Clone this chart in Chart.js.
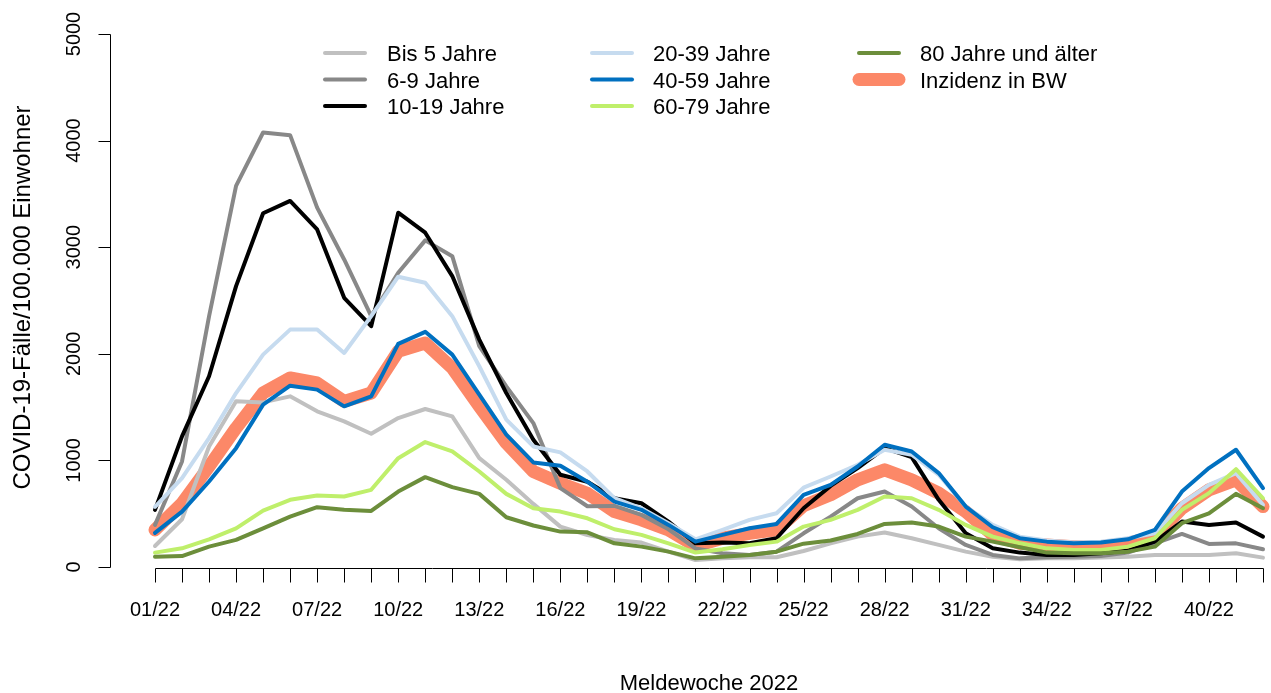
<!DOCTYPE html>
<html>
<head>
<meta charset="utf-8">
<script src="https://cdn.jsdelivr.net/npm/chart.js@4"></script>
<style>
html,body{margin:0;padding:0;background:#ffffff;}
#wrap{width:1271px;height:693px;}
</style>
</head>
<body>
<div id="wrap"><canvas id="c" width="1271" height="693"></canvas></div>
<script>
// ---- data ----
const weeks = [1,2,3,4,5,6,7,8,9,10,11,12,13,14,15,16,17,18,19,20,21,22,23,24,25,26,27,28,29,30,31,32,33,34,35,36,37,38,39,40,41,42];
const labeledWeeks = [1,4,7,10,13,16,19,22,25,28,31,34,37,40];
const yTicks = [0,1000,2000,3000,4000,5000];

const bis5     = [197,448,1131,1554,1544,1601,1460,1366,1250,1397,1482,1413,1021,818,592,379,300,254,229,144,66,81,91,91,150,222,285,323,270,207,144,97,72,81,81,88,97,113,113,113,129,88];
const age6_9   = [395,990,2350,3575,4076,4051,3371,2885,2353,2760,3064,2916,2071,1695,1350,740,570,573,489,354,175,129,113,144,316,473,645,708,567,363,207,113,81,91,97,103,135,222,310,216,222,166];
const age10_19 = [536,1225,1789,2635,3318,3434,3167,2525,2259,3324,3136,2729,2133,1632,1194,865,800,645,598,426,222,229,222,270,551,761,928,1115,1031,630,316,175,135,113,113,129,153,238,426,395,417,285];
const age20_39 = [564,833,1209,1632,1992,2227,2227,2008,2353,2723,2666,2353,1883,1382,1131,1075,896,645,551,411,260,348,442,504,744,849,959,1100,1053,865,567,395,285,248,229,238,270,316,598,771,881,583];
const age40_59 = [320,520,802,1115,1523,1701,1664,1507,1601,2093,2206,1992,1617,1241,981,949,800,614,536,395,238,301,363,404,677,771,943,1147,1084,881,567,373,270,238,222,229,260,348,708,928,1100,739];
const age60_79 = [135,175,260,363,529,630,671,661,724,1021,1172,1084,896,686,551,520,457,354,301,222,135,166,207,238,379,442,536,661,645,536,395,285,222,175,160,160,191,270,536,693,918,645];
const age80    = [97,103,191,254,363,473,561,536,526,708,843,749,686,467,389,332,325,222,191,144,81,97,113,144,219,248,310,404,417,379,285,238,185,135,129,129,144,191,411,504,686,551];
const inzidenzBW = [348,598,943,1303,1632,1773,1726,1554,1632,2024,2102,1867,1507,1163,896,786,690,520,442,348,197,270,316,348,575,677,818,912,818,693,520,301,222,207,191,191,222,285,551,724,818,567];

const seriesLabels = ['Bis 5 Jahre','6-9 Jahre','10-19 Jahre','20-39 Jahre','40-59 Jahre','60-79 Jahre','80 Jahre und älter','Inzidenz in BW'];
const seriesValues = [bis5, age6_9, age10_19, age20_39, age40_59, age60_79, age80, inzidenzBW];

const xTitle = 'Meldewoche 2022';
const yTitle = 'COVID-19-Fälle/100.000 Einwohner';

// ---- styles ----
const FONT = '"Liberation Sans", Arial, Helvetica, sans-serif';
const seriesColors = ['#c0c0c0','#888888','#000000','#c6dbef','#0070c0','#bfef6b','#6c8e3b','#fc8868'];
const seriesWidths = [4,4,4,4,4,4,4,13];
const seriesOrder  = [7,6,5,4,3,2,1,8];

const datasets = seriesLabels.map((lab, k) => ({
  label: lab,
  data: weeks.map((w, i) => ({x: w, y: seriesValues[k][i]})),
  borderColor: seriesColors[k],
  backgroundColor: seriesColors[k],
  borderWidth: seriesWidths[k],
  pointRadius: 0,
  pointHoverRadius: 0,
  fill: false,
  tension: 0,
  borderCapStyle: 'round',
  borderJoinStyle: 'round',
  order: seriesOrder[k],
  legendIndex: k
}));

const pad2 = v => (v < 10 ? '0' : '') + v;

const rAxesPlugin = {
  id: 'rAxes',
  afterDraw(chart) {
    const ctx = chart.ctx;
    const xs = chart.scales.x, ys = chart.scales.y;
    const area = chart.chartArea;
    ctx.save();
    ctx.strokeStyle = '#000';
    ctx.lineWidth = 1;
    // x axis
    const y0 = Math.round(ys.getPixelForValue(0)) + 1.5;
    ctx.beginPath();
    ctx.moveTo(Math.round(xs.getPixelForValue(weeks[0])) + 0.5, y0);
    ctx.lineTo(Math.round(xs.getPixelForValue(weeks[weeks.length - 1])) + 0.5, y0);
    weeks.forEach(w => {
      const px = Math.round(xs.getPixelForValue(w)) + 0.5;
      ctx.moveTo(px, y0);
      ctx.lineTo(px, y0 + 14);
    });
    ctx.stroke();
    // y axis
    const x0 = Math.round(area.left) + 0.5;
    ctx.beginPath();
    ctx.moveTo(x0, Math.round(ys.getPixelForValue(yTicks[0])) + 0.5);
    ctx.lineTo(x0, Math.round(ys.getPixelForValue(yTicks[yTicks.length - 1])) + 0.5);
    yTicks.forEach(v => {
      const py = Math.round(ys.getPixelForValue(v)) + 0.5;
      ctx.moveTo(x0, py);
      ctx.lineTo(x0 - 12, py);
    });
    ctx.stroke();
    // y tick labels (rotated like R)
    ctx.fillStyle = '#000';
    ctx.font = '20px ' + FONT;
    ctx.textAlign = 'center';
    ctx.textBaseline = 'alphabetic';
    yTicks.forEach(v => {
      ctx.save();
      ctx.translate(x0 - 31, ys.getPixelForValue(v));
      ctx.rotate(-Math.PI / 2);
      ctx.fillText(String(v), 0, 0);
      ctx.restore();
    });
    // y title
    ctx.font = '24px ' + FONT;
    ctx.save();
    ctx.translate(30, (ys.getPixelForValue(yTicks[0]) + ys.getPixelForValue(yTicks[yTicks.length - 1])) / 2 - 3);
    ctx.rotate(-Math.PI / 2);
    ctx.fillText(yTitle, 0, 0);
    ctx.restore();
    // x title
    ctx.font = '22px ' + FONT;
    ctx.fillText(xTitle, xs.getPixelForValue((weeks[0] + weeks[weeks.length - 1]) / 2), 690);
    // legend (column-major, 3 rows)
    const colLineX = [325, 592, 859];
    const colTextX = [387, 653, 920];
    const rowY = [53, 79.5, 106];
    ctx.font = '22px ' + FONT;
    ctx.textAlign = 'left';
    chart.data.datasets.slice().sort((a, b) => a.legendIndex - b.legendIndex).forEach((ds, i) => {
      const col = Math.floor(i / 3), row = i % 3;
      const yy = rowY[row];
      ctx.beginPath();
      ctx.strokeStyle = ds.borderColor;
      ctx.lineWidth = ds.borderWidth;
      ctx.lineCap = 'round';
      ctx.moveTo(colLineX[col], yy);
      ctx.lineTo(colLineX[col] + 40, yy);
      ctx.stroke();
      ctx.fillStyle = '#000';
      ctx.fillText(ds.label, colTextX[col], yy + 8);
    });
    ctx.restore();
  }
};

new Chart(document.getElementById('c'), {
  type: 'line',
  data: { datasets },
  options: {
    responsive: false,
    animation: false,
    devicePixelRatio: 1,
    events: [],
    layout: { padding: { top: 34, right: 0, bottom: 0, left: 0 } },
    plugins: { legend: { display: false }, tooltip: { enabled: false }, title: { display: false } },
    scales: {
      x: {
        type: 'linear',
        min: -0.665,
        max: 42.296,
        afterBuildTicks: s => { s.ticks = weeks.map(w => ({ value: w })); },
        afterFit: s => { s.height = 126; s.paddingLeft = 0; s.paddingRight = 0; },
        grid: { display: false, drawTicks: false },
        border: { display: false },
        ticks: {
          autoSkip: false,
          maxRotation: 0,
          minRotation: 0,
          padding: 31,
          color: '#000',
          font: { family: FONT, size: 20 },
          callback: v => labeledWeeks.includes(v) ? pad2(v) + '/22' : ''
        }
      },
      y: {
        type: 'linear',
        min: 0,
        max: 5000,
        afterBuildTicks: s => { s.ticks = yTicks.map(v => ({ value: v })); },
        afterFit: s => { s.width = 110; s.paddingTop = 0; s.paddingBottom = 0; },
        grid: { display: false, drawTicks: false },
        border: { display: false },
        ticks: { display: false }
      }
    }
  },
  plugins: [rAxesPlugin]
});
</script>
</body>
</html>
